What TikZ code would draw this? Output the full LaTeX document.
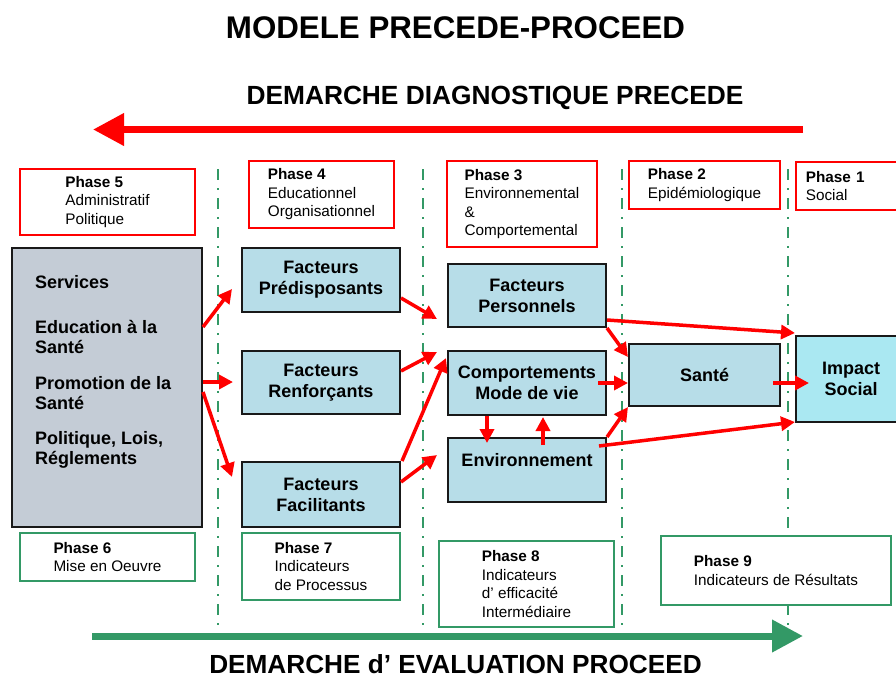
\documentclass[tikz,border=0pt]{standalone}
\usepackage{fontspec}
\setmainfont{Liberation Sans}
\usetikzlibrary{arrows.meta}
\definecolor{boxblue}{RGB}{183,221,232}
\definecolor{impactblue}{RGB}{170,232,242}
\definecolor{grayfill}{RGB}{196,204,214}
\definecolor{pgreen}{RGB}{51,153,102}
\tikzset{
  fbox/.style={draw=black!90, line width=2pt, fill=boxblue, align=center,
    font=\fontsize{18}{21}\selectfont\bfseries, inner sep=0pt},
  phr/.style={draw=red, fill=white, line width=1.7pt, align=left,
    font=\fontsize{15.3}{18.5}\selectfont, inner sep=0pt},
  phg/.style={draw=pgreen, fill=white, line width=1.8pt, align=left,
    font=\fontsize{15.3}{18.5}\selectfont, inner sep=0pt},
  conn/.style={draw=red, line width=3.5pt, -{Triangle[length=14pt,width=14pt]}},
  vline/.style={draw=pgreen, line width=2.5pt, dash pattern=on 11pt off 8pt on 2pt off 8pt},
  bigarrow/.style={line width=7pt, -{Triangle[length=31pt,width=31pt]}},
  ttl/.style={inner sep=0pt, anchor=base},
}
\begin{document}
\begin{tikzpicture}[x=1pt, y=-1pt]
\clip (0,0) rectangle (896,678);
\fill[white] (0,0) rectangle (896,678);

% titles
\node[ttl, font=\fontsize{31.3}{36}\selectfont\bfseries] (title) at (455.5,38) {MODELE PRECEDE-PROCEED};
\node[ttl, font=\fontsize{26.3}{30}\selectfont\bfseries] (diag) at (495,104) {DEMARCHE DIAGNOSTIQUE PRECEDE};
\node[ttl, font=\fontsize{26.2}{30}\selectfont\bfseries] (eval) at (455.5,673) {DEMARCHE d’ EVALUATION PROCEED};

% big arrows
\coordinate (rs) at (803,129.5);
\coordinate (re) at (93,129.5);
\draw[bigarrow, red] (rs) -- (re);
\coordinate (gs) at (92,636);
\coordinate (ge) at (803,636);
\draw[bigarrow, pgreen] (gs) -- (ge);

% vertical separators
\draw[vline] (218,169) -- (218,625);
\draw[vline] (423,169) -- (423,625);
\draw[vline] (622,169) -- (622,625);
\draw[vline] (788,169) -- (788,625);

% top phase boxes
\node[phr, minimum width=175pt, minimum height=66pt] (p5) at (107.5,202) {\textbf{Phase 5}\\Administratif\\Politique};
\node[phr, minimum width=145pt, minimum height=67pt] (p4) at (321.5,194.5) {\textbf{Phase 4}\\Educationnel\\Organisationnel};
\node[phr, minimum width=150pt, minimum height=86pt] (p3) at (522,204) {\textbf{Phase 3}\\Environnemental\\\&\\Comportemental};
\node[phr, minimum width=151pt, minimum height=48pt] (p2) at (704.5,185) {\textbf{Phase 2}\\Epidémiologique};
\node[phr, minimum width=130pt, minimum height=48pt, text width=110pt, inner xsep=10pt, anchor=north west] (p1) at (795,161) {\textbf{Phase 1}\\Social};

% bottom phase boxes
\node[phg, minimum width=175pt, minimum height=48pt] (p6) at (107.5,557) {\textbf{Phase 6}\\Mise en Oeuvre};
\node[phg, minimum width=158pt, minimum height=67pt] (p7) at (321,566.5) {\textbf{Phase 7}\\Indicateurs\\de Processus};
\node[phg, minimum width=175pt, minimum height=86pt] (p8) at (526.5,584) {\textbf{Phase 8}\\Indicateurs\\d’ efficacité\\Intermédiaire};
\node[phg, minimum width=230pt, minimum height=69pt] (p9) at (776,570.5) {\textbf{Phase 9}\\Indicateurs de Résultats};

% gray box
\node[draw=black!90, line width=2pt, fill=grayfill, minimum width=190pt, minimum height=279pt, inner sep=0pt] (gray) at (107,387.5) {};
\node[anchor=north west, inner sep=0pt, align=left, font=\fontsize{18}{20}\selectfont\bfseries] (graytext) at (35,275) {Services\\[25pt]Education à la\\Santé\\[16pt]Promotion de la\\Santé\\[15pt]Politique, Lois,\\Réglements};

% blue boxes
\node[fbox, minimum width=158pt, minimum height=64pt] (pred) at (321,280) {Facteurs\\Prédisposants};
\node[fbox, minimum width=158pt, minimum height=63pt] (renf) at (321,382.5) {Facteurs\\Renforçants};
\node[fbox, minimum width=158pt, minimum height=65pt] (facil) at (321,494.5) {Facteurs\\Facilitants};
\node[fbox, minimum width=158pt, minimum height=63pt] (pers) at (527,295.5) {Facteurs\\Personnels};
\node[fbox, minimum width=158pt, minimum height=64pt] (comp) at (527,383) {Comportements\\Mode de vie};
\node[fbox, minimum width=158pt, minimum height=64pt] (env) at (527,470) {Environnement\\\mbox{}};
\node[fbox, minimum width=151pt, minimum height=62pt] (sante) at (704.5,375) {Santé};
\node[fbox, fill=impactblue, minimum width=110pt, minimum height=86pt] (impact) at (851,379) {Impact\\Social};

% connectors
\draw[conn] ([yshift=60.5pt]gray.east) -- ([xshift=-9pt,yshift=-9pt]pred.west);
\draw[conn] ([yshift=5.5pt]gray.east) -- ([xshift=-8pt,yshift=0.5pt]renf.west);
\draw[conn] ([yshift=-4.5pt]gray.east) -- ([xshift=-9pt,yshift=17.5pt]facil.west);
\draw[conn] ([yshift=-18pt]pred.east) -- ([xshift=-10pt,yshift=-23.5pt]pers.west);
\draw[conn] ([yshift=11.5pt]renf.east) -- ([xshift=-10pt,yshift=31pt]comp.west);
\draw[conn] ([xshift=1pt]facil.north east) -- ([xshift=-1pt,yshift=25pt]comp.west);
\draw[conn] ([yshift=12.5pt]facil.east) -- ([xshift=-10pt,yshift=15pt]env.west);
\draw[conn] (pers.south east) -- ([yshift=18pt]sante.west);
\draw[conn] ([yshift=-24.5pt]pers.east) -- ([yshift=2pt]impact.north west);
\draw[conn] ([xshift=-9pt]comp.east) -- ([yshift=-8pt]sante.west);
\draw[conn] (env.north east) -- (sante.south west);
\draw[conn] ([xshift=-8pt,yshift=-9pt]env.north east) -- ([yshift=1pt]impact.south west);
\draw[conn] ([xshift=-8pt,yshift=-8pt]sante.east) -- ([xshift=14pt,yshift=-4pt]impact.west);
\draw[conn] ([xshift=-40pt]comp.south) -- ([xshift=-40pt,yshift=-6pt]env.north);
\draw[conn] ([xshift=16pt,yshift=-8pt]env.north) -- ([xshift=16pt,yshift=-1pt]comp.south);
\end{tikzpicture}
\end{document}
